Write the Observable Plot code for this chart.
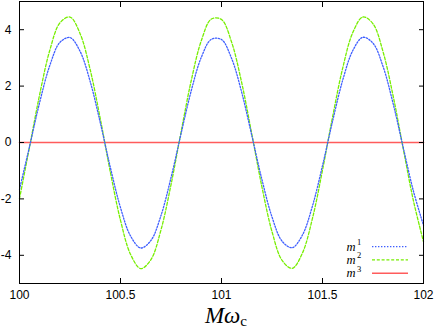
<!DOCTYPE html>
<html><head><meta charset="utf-8">
<script src="https://cdn.jsdelivr.net/npm/d3@7"></script>
<script src="https://cdn.jsdelivr.net/npm/@observablehq/plot@0.6"></script>
<style>body{margin:0;background:#fff}</style>
</head><body><div id="chart"></div>
<script>
const xs = [100,100.05,100.1,100.15,100.2,100.25,100.3,100.35,100.4,100.45,100.5,100.55,100.6,100.65,100.7,100.75,100.8,100.85,100.9,100.95,101,101.05,101.1,101.15,101.2,101.25,101.3,101.35,101.4,101.45,101.5,101.55,101.6,101.65,101.7,101.75,101.8,101.85,101.9,101.95,102];
const m1 = [-1.66,-0.13,1.43,2.73,3.55,3.72,3.23,2.16,0.70,-0.89,-2.31,-3.32,-3.74,-3.48,-2.60,-1.25,0.32,1.83,3.02,3.66,3.65,2.98,1.78,0.25,-1.31,-2.64,-3.50,-3.73,-3.29,-2.26,-0.82,0.76,2.21,3.26,3.73,3.52,2.69,1.37,-0.19,-1.72,-2.94];
const m2 = [-1.99,-0.15,1.71,3.27,4.24,4.45,3.86,2.58,0.84,-1.06,-2.76,-3.97,-4.47,-4.16,-3.11,-1.50,0.38,2.19,3.61,4.38,4.36,3.56,2.12,0.30,-1.57,-3.16,-4.18,-4.46,-3.93,-2.70,-0.98,0.91,2.64,3.90,4.45,4.21,3.21,1.64,-0.23,-2.06,-3.52];
const m3 = [0,0,0,0,0,0,0,0,0,0,0,0,0,0,0,0,0,0,0,0,0,0,0,0,0,0,0,0,0,0,0,0,0,0,0,0,0,0,0,0,0];
const xTicks = [100,100.5,101,101.5,102];
const yTicks = [-4,-2,0,2,4];
const seriesNames = ["m1","m2","m3"];
const seriesSup = ["1","2","3"];
const colors = ["#3f5fff","#77ee00","#ff5c5c"];
const dashes = ["1.4,1.6","3,1.8",null];
const widths = [1.3,1.3,1.6];

const rows = [];
[m1,m2,m3].forEach((arr,si)=>arr.forEach((v,i)=>rows.push({x:xs[i],y:v,s:seriesNames[si]})));

const font = "'Liberation Sans', Arial, sans-serif";
const marks = [];
[2,1,0].forEach(si=>{
  marks.push(Plot.line(rows.filter(d=>d.s===seriesNames[si]), {x:"x",y:"y",stroke:colors[si],strokeWidth:widths[si],strokeDasharray:dashes[si],curve:"catmull-rom"}));
});
marks.push(
  Plot.frame({stroke:"#000",strokeWidth:1}),
  Plot.axisX(xTicks,{anchor:"bottom",tickSize:-5,tickFormat:()=>"",label:null}),
  Plot.axisX(xTicks,{anchor:"top",tickSize:-5,tickFormat:()=>"",label:null}),
  Plot.axisY(yTicks,{anchor:"left",tickSize:-5,tickFormat:()=>"",label:null}),
  Plot.axisY(yTicks,{anchor:"right",tickSize:-5,tickFormat:()=>"",label:null}),
  Plot.axisX(xTicks,{anchor:"bottom",tickSize:0,tickPadding:7,label:null,tickFormat:d=>String(d),fontSize:12}),
  Plot.axisY(yTicks,{anchor:"left",tickSize:0,tickPadding:8,label:null,tickFormat:d=>String(d),fontSize:12})
);

const chart = Plot.plot({
  width:436,height:330,
  marginLeft:19,marginRight:13,marginTop:1,marginBottom:47,
  style:{fontFamily:font,fontSize:"12px",color:"#000",background:"#fff"},
  x:{domain:[100,102]},
  y:{domain:[-5,5]},
  marks
});
document.getElementById("chart").append(chart);

const svg = d3.select(chart);
const t = svg.append("text").attr("x",226).attr("y",323).attr("text-anchor","middle")
  .attr("font-family","'Liberation Serif','DejaVu Serif',serif").attr("font-size",23).attr("fill","#000");
t.append("tspan").attr("font-style","italic").text("Mω");
t.append("tspan").attr("font-size",15).attr("dy",3).text("c");

// legend
const lg = svg.append("g");
const serif = "'Liberation Serif','DejaVu Serif',serif";
seriesNames.forEach((n,i)=>{
  const y = 246.6 + i*13.3;
  lg.append("text").attr("x",351).attr("y",y+4).attr("font-family",serif).attr("font-style","italic")
    .attr("font-size",12.5).attr("fill","#000").text("m");
  lg.append("text").attr("x",359).attr("y",y-1.5).attr("font-family",serif)
    .attr("font-size",8.5).attr("fill","#000").text(seriesSup[i]);
  lg.append("line").attr("x1",372).attr("x2",408).attr("y1",y).attr("y2",y)
    .attr("stroke",colors[i]).attr("stroke-width",widths[i]).attr("stroke-dasharray",dashes[i]);
});
</script></body></html>
